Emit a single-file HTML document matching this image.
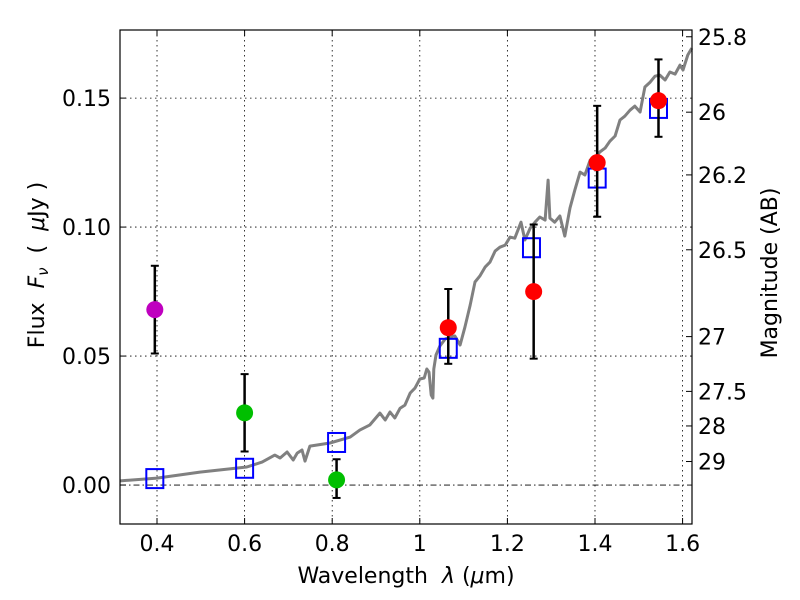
<!DOCTYPE html>
<html><head><meta charset="utf-8"><style>
body{margin:0;background:#fff;}
svg{display:block;font-family:"DejaVu Sans","Liberation Sans",sans-serif;}
</style></head><body>
<svg id="chart" width="800" height="600">
<g id="grid"></g>
<g id="plot"></g>
<g id="axes"></g>
<text x="406" y="583" text-anchor="middle" font-size="22" xml:space="preserve" style="white-space:pre">Wavelength  <tspan font-style="italic">λ</tspan> (<tspan font-style="italic">μ</tspan>m)</text>
<text transform="translate(44,265) rotate(-90)" text-anchor="middle" font-size="22" xml:space="preserve" style="white-space:pre">Flux  <tspan font-style="italic">F<tspan font-size="15" dy="4">ν</tspan></tspan><tspan dy="-4">  (  </tspan><tspan font-style="italic">μ</tspan>Jy )</text>
<text transform="translate(777,273) rotate(-90)" text-anchor="middle" font-size="22">Magnitude (AB)</text>
</svg>
<script>
const specWl=[0.316,0.400,0.498,0.605,0.640,0.669,0.681,0.697,0.711,0.720,0.731,0.738,0.749,0.795,0.841,0.863,0.886,0.909,0.921,0.932,0.943,0.955,0.966,0.978,0.989,1.000,1.010,1.016,1.021,1.026,1.030,1.032,1.037,1.046,1.058,1.069,1.080,1.092,1.103,1.115,1.126,1.137,1.149,1.160,1.172,1.183,1.195,1.206,1.217,1.231,1.240,1.252,1.263,1.274,1.286,1.293,1.297,1.308,1.320,1.331,1.343,1.354,1.366,1.377,1.389,1.400,1.411,1.423,1.434,1.446,1.457,1.468,1.480,1.491,1.503,1.514,1.526,1.537,1.548,1.560,1.571,1.583,1.594,1.601,1.612,1.621];
const specFlux=[0.0016,0.0027,0.0050,0.0070,0.0089,0.0116,0.0105,0.0128,0.0097,0.0124,0.0136,0.0093,0.0151,0.0163,0.0186,0.0213,0.0233,0.0279,0.0252,0.0283,0.0260,0.0298,0.0310,0.0357,0.0376,0.0411,0.0415,0.0450,0.0438,0.0349,0.0337,0.0450,0.0504,0.0539,0.0566,0.0574,0.0578,0.0543,0.0612,0.0698,0.0787,0.0810,0.0845,0.0864,0.0907,0.0922,0.0930,0.0961,0.0957,0.1019,0.0950,0.0996,0.1019,0.1039,0.1027,0.1182,0.1035,0.1019,0.1043,0.0965,0.1074,0.1143,0.1213,0.1202,0.1260,0.1267,0.1291,0.1306,0.1333,0.1353,0.1415,0.1430,0.1453,0.1469,0.1446,0.1543,0.1562,0.1585,0.1589,0.1570,0.1601,0.1593,0.1628,0.1609,0.1667,0.1694];
const obsWl=[0.395,0.600,0.810,1.065,1.260,1.405,1.545];
const obsFlux=[0.068,0.028,0.002,0.061,0.075,0.125,0.149];
const obsLo=[0.051,0.013,-0.005,0.047,0.049,0.104,0.135];
const obsHi=[0.085,0.043,0.010,0.076,0.101,0.147,0.165];
const obsColor=['#bf00bf','#00bf00','#00bf00','#ff0000','#ff0000','#ff0000','#ff0000'];
const modelWl=[0.395,0.600,0.810,1.065,1.255,1.405,1.545];
const modelFlux=[0.0025,0.0065,0.0165,0.053,0.092,0.119,0.146];
const xTicks=[0.4,0.6,0.8,1.0,1.2,1.4,1.6];
const xTickLabels=['0.4','0.6','0.8','1','1.2','1.4','1.6'];
const yTicks=[0,0.05,0.10,0.15];
const yTickLabels=['0.00','0.05','0.10','0.15'];
const magTicks=[25.8,26,26.2,26.5,27,27.5,28,29];
const magLabels=['25.8','26','26.2','26.5','27','27.5','28','29'];

const L=120,R=692,T=30,B=524;
const xMin=0.3155,xMax=1.6215,yMin=-0.0151,yMax=0.1764;
const sx=v=>L+(v-xMin)/(xMax-xMin)*(R-L);
const sy=v=>B-(v-yMin)/(yMax-yMin)*(B-T);
const NS='http://www.w3.org/2000/svg';
function mk(tag,attrs,parent){const e=document.createElementNS(NS,tag);for(const k in attrs)e.setAttribute(k,attrs[k]);parent.appendChild(e);return e;}
const grid=document.getElementById('grid'),plot=document.getElementById('plot'),axes=document.getElementById('axes');

xTicks.forEach((t,i)=>{
  const x=sx(t);
  const g=mk('line',{x1:x,x2:x,y1:T,y2:B,stroke:'#000','stroke-width':0.8,'stroke-dasharray':'1.5,3.5'},grid);
  
  
  mk('line',{x1:x,x2:x,y1:B,y2:B-6,stroke:'#000'},axes);
  mk('line',{x1:x,x2:x,y1:T,y2:T+6,stroke:'#000'},axes);
  const lb=mk('text',{x:x,y:B+27,'text-anchor':'middle','font-size':22},axes);
  lb.textContent=xTickLabels[i];
  
  
});
yTicks.forEach((t,i)=>{
  const y=sy(t);
  const g=mk('line',{x1:L,x2:R,y1:y,y2:y,stroke:'#000','stroke-width':0.8,'stroke-dasharray':t===0?'6,3,1.5,3':'1.5,3.5'},grid);
  
  
  mk('line',{x1:L,x2:L+6,y1:y,y2:y,stroke:'#000'},axes);
  const lb=mk('text',{x:L-9,y:y+8,'text-anchor':'end','font-size':22},axes);
  lb.textContent=yTickLabels[i];
  
  
});
magTicks.forEach((m,i)=>{
  const y=sy(Math.pow(10,(23.9-m)/2.5));
  mk('line',{x1:R,x2:R-6,y1:y,y2:y,stroke:'#000'},axes);
  const lb=mk('text',{x:R+6,y:y+8,'font-size':22},axes);
  lb.textContent=magLabels[i];
  
  
});

const pts=specWl.map((w,i)=>sx(w).toFixed(1)+','+sy(specFlux[i]).toFixed(1)).join(' ');
const sp=mk('polyline',{points:pts,fill:'none',stroke:'#808080','stroke-width':3,'stroke-linejoin':'round'},plot);



modelWl.forEach((w,i)=>{
  const x=sx(w),y=sy(modelFlux[i]);
  const r=mk('rect',{x:x-8.5,y:y-9.5,width:17,height:19,fill:'none',stroke:'#0000ff','stroke-width':2},plot);
  
  
});
obsWl.forEach((w,i)=>{
  const x=sx(w),y=sy(obsFlux[i]),y1=sy(obsLo[i]),y2=sy(obsHi[i]);
  const g=mk('g',{},plot);
  
  
  mk('line',{x1:x,x2:x,y1:y1,y2:y2,stroke:'#000','stroke-width':2.5},g);
  mk('line',{x1:x-4,x2:x+4,y1:y1,y2:y1,stroke:'#000','stroke-width':2},g);
  mk('line',{x1:x-4,x2:x+4,y1:y2,y2:y2,stroke:'#000','stroke-width':2},g);
  mk('circle',{cx:x,cy:y,r:8.5,fill:obsColor[i]},g);
});
const fr=mk('rect',{x:L,y:T,width:R-L,height:B-T,fill:'none',stroke:'#000','stroke-width':1.2},axes);


</script>
</body></html>
